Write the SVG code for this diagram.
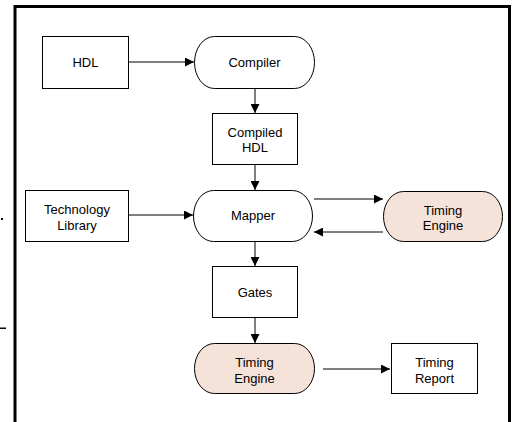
<svg xmlns="http://www.w3.org/2000/svg" width="515" height="422" viewBox="0 0 515 422">
  <style>
    .box { fill: #ffffff; stroke: #000000; stroke-width: 1; }
    .term { fill: #ffffff; stroke: #000000; stroke-width: 1; }
    .timing { fill: #f5e2d8; stroke: #000000; stroke-width: 1; }
    .lbl { font-family: "Liberation Sans", Arial, sans-serif; font-size: 13px; fill: #000000; text-anchor: middle; dominant-baseline: central; }
    .edge { stroke: #000000; stroke-width: 1; fill: none; marker-end: url(#arrow); }
    .frame { fill: none; stroke: #000000; stroke-width: 3; }
  </style>
  <defs>
    <marker id="arrow" viewBox="0 0 10 10" refX="10" refY="5" markerWidth="10" markerHeight="9" markerUnits="userSpaceOnUse" orient="auto">
      <path d="M0,0 L10,5 L0,10 Z" fill="#000000"/>
    </marker>
  </defs>

  <rect width="515" height="422" fill="#ffffff"/>

  <!-- outer frame, open at the bottom -->
  <path class="frame" d="M15,422 V6.5 H509.5 V422"/>
  <!-- stray marks left of the frame -->
  <rect x="1" y="218" width="2" height="2" fill="#000000"/>
  <rect x="0" y="327.5" width="6" height="1.5" fill="#000000"/>

  <g id="connectors">
    <line class="edge" x1="128" y1="62" x2="194" y2="62"/>
    <line class="edge" x1="255" y1="88" x2="255" y2="113"/>
    <line class="edge" x1="255" y1="164" x2="255" y2="190"/>
    <line class="edge" x1="128" y1="215" x2="193" y2="215"/>
    <line class="edge" x1="314" y1="199" x2="383" y2="199"/>
    <line class="edge" x1="383" y1="232" x2="314" y2="232"/>
    <line class="edge" x1="255" y1="241" x2="255" y2="266"/>
    <line class="edge" x1="255" y1="317" x2="255" y2="343"/>
    <line class="edge" x1="323" y1="369" x2="390" y2="369"/>
  </g>

  <g id="hdl">
    <rect class="box" x="42.5" y="36.5" width="86" height="52"/>
    <text class="lbl" x="85.5" y="62">HDL</text>
  </g>

  <g id="compiler">
    <rect class="term" x="194.5" y="36.5" width="120" height="52" rx="20" ry="26"/>
    <text class="lbl" x="254.5" y="62">Compiler</text>
  </g>

  <g id="compiled-hdl">
    <rect class="box" x="212.5" y="113.5" width="85" height="51"/>
    <text class="lbl" x="255" y="132">Compiled</text>
    <text class="lbl" x="255" y="147">HDL</text>
  </g>

  <g id="technology-library">
    <rect class="box" x="25.5" y="190.5" width="103" height="51"/>
    <text class="lbl" x="77" y="209">Technology</text>
    <text class="lbl" x="77" y="225">Library</text>
  </g>

  <g id="mapper">
    <rect class="term" x="193.5" y="190.5" width="119" height="51" rx="20" ry="25.5"/>
    <text class="lbl" x="253" y="215.5">Mapper</text>
  </g>

  <g id="timing-engine-1">
    <rect class="timing" x="383.5" y="191.5" width="119" height="50" rx="20" ry="25"/>
    <text class="lbl" x="443" y="210">Timing</text>
    <text class="lbl" x="443" y="225">Engine</text>
  </g>

  <g id="gates">
    <rect class="box" x="212.5" y="266.5" width="85" height="51"/>
    <text class="lbl" x="255" y="292">Gates</text>
  </g>

  <g id="timing-engine-2">
    <rect class="timing" x="194.5" y="343.5" width="120" height="50" rx="20" ry="25"/>
    <text class="lbl" x="254.5" y="362">Timing</text>
    <text class="lbl" x="254.5" y="378">Engine</text>
  </g>

  <g id="timing-report">
    <rect class="box" x="391.5" y="343.5" width="86" height="50"/>
    <text class="lbl" x="434.5" y="362">Timing</text>
    <text class="lbl" x="434.5" y="378">Report</text>
  </g>
</svg>
